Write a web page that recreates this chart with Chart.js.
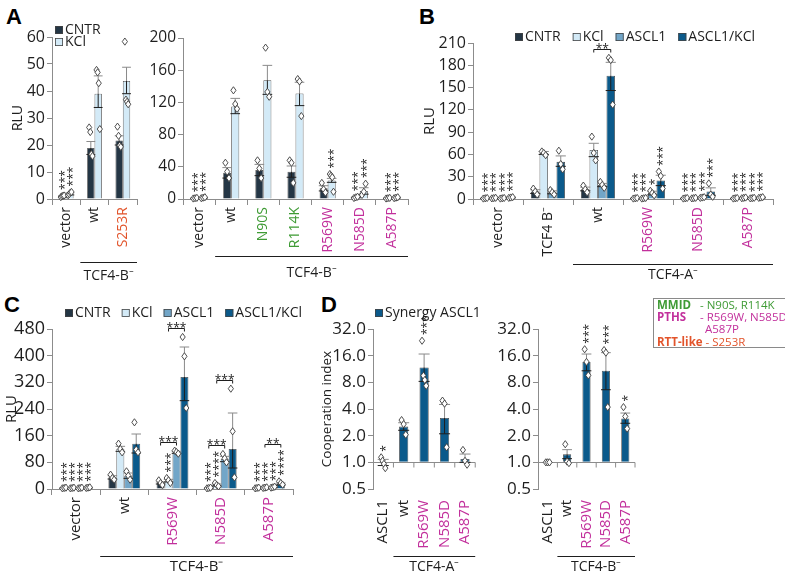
<!DOCTYPE html>
<html>
<head>
<meta charset="utf-8">
<title>TCF4 reporter assays</title>
<script src="https://cdn.jsdelivr.net/npm/chart.js@4.4.1/dist/chart.umd.min.js"></script>
<style>
  body { margin: 0; background: #fff; }
  #page { position: relative; width: 785px; height: 571px; overflow: hidden; font-family: 'Open Sans', sans-serif; }
  #page canvas { position: absolute; }
  .tag { position: absolute; font: bold 22px 'Liberation Sans', Arial, sans-serif; line-height: 1; color: #000; }
  #key { position: absolute; left: 653px; top: 298px; width: 140px; height: 50px; border: 1px solid #8a8a8a; box-sizing: border-box; font-size: 11.5px; }
  #key span { position: absolute; white-space: nowrap; line-height: 12px; }
</style>
</head>
<body>
<div id="page">
  <div class="tag" style="left:6px;top:6px">A</div>
  <div class="tag" style="left:419px;top:6px">B</div>
  <div class="tag" style="left:4px;top:294px">C</div>
  <div class="tag" style="left:321px;top:294px">D</div>
  <canvas id="aLeft"></canvas>
  <canvas id="aRight"></canvas>
  <canvas id="panelB"></canvas>
  <canvas id="panelC"></canvas>
  <canvas id="dLeft"></canvas>
  <canvas id="dRight"></canvas>
  <div id="key">
    <span style="left:3px;top:0px;color:#3f9b35;font-weight:bold">MMID</span>
    <span style="left:46px;top:0px;color:#3f9b35">- N90S, R114K</span>
    <span style="left:3px;top:12px;color:#c2309c;font-weight:bold">PTHS</span>
    <span style="left:46px;top:12px;color:#c2309c">- R569W, N585D,</span>
    <span style="left:51px;top:24px;color:#c2309c">A587P</span>
    <span style="left:3px;top:37px;color:#e2542b"><b>RTT-like</b> - S253R</span>
  </div>
</div>
<script>
// ---- A, left: TCF4-B- wt / S253R, CNTR vs KCl
const aLeftLabels = ['vector', 'wt', 'S253R'];
const aLeftCntr = [1.0, 18.9, 21.7];
const aLeftCntrErr = [[0.8, 1.2], [16.5, 21.3], [20.0, 23.4]];
const aLeftCntrPts = [[0.7, 1.0, 1.2, 1.3], [26.5, 24.8, 16.6, 15.9], [26.8, 23.4, 19.8, 19.3]];
const aLeftCntrStars = ['***', '', ''];
const aLeftKcl = [1.9, 39.0, 43.7];
const aLeftKclErr = [[1.5, 2.3], [33.9, 45.6], [39.0, 48.8]];
const aLeftKclPts = [[1.4, 1.8, 2.4, 2.6], [47.8, 46.9, 42.9, 25.9], [58.3, 36.8, 36.0, 35.1]];
const aLeftKclStars = ['***', '', ''];

// ---- A, right: TCF4-B- variants
const aRightLabels = ['vector', 'wt', 'N90S', 'R114K', 'R569W', 'N585D', 'A587P'];
const aRightCntr = [1.0, 32.6, 36.0, 34.0, 13.2, 2.0, 1.0];
const aRightCntrErr = [[0.7, 1.3], [26, 39], [29, 43], [27, 41], [10, 16.5], [1.5, 2.5], [0.7, 1.3]];
const aRightCntrPts = [[0.6, 1.0, 1.4], [45, 34, 26], [48, 38, 26], [48, 45, 20], [20, 12, 8], [1.2, 2.0, 2.8], [0.6, 1.0, 1.4]];
const aRightCntrStars = ['***', '', '', '', '', '***', '***'];
const aRightKcl = [1.6, 115, 147.5, 131, 23, 10, 1.6];
const aRightKclErr = [[1.2, 2.0], [106, 125], [130, 166], [116, 145], [20.7, 25.6], [6, 14], [1.2, 2.0]];
const aRightKclPts = [[1.0, 1.6, 2.2], [135, 118, 112], [188, 133, 127], [149, 146, 103], [31, 29, 27, 9], [5, 9, 19], [1.0, 1.6, 2.2]];
const aRightKclStars = ['***', '', '', '', '***', '***', '***'];

// ---- B: TCF4-A- variants with ASCL1
const bLabels = ['vector', 'TCF4 B⁻', 'wt', 'R569W', 'N585D', 'A587P'];
const bCntr = [1.0, 10, 13, 1.0, 1.0, 1.0];
const bCntrErr = [[0.7, 1.3], [7.5, 12.5], [11, 16], [0.7, 1.3], [0.7, 1.3], [0.7, 1.3]];
const bCntrPts = [[0.6, 1.0, 1.4], [14, 10, 6], [18, 13, 9], [0.6, 1.0, 1.4], [0.6, 1.0, 1.4], [0.6, 1.0, 1.4]];
const bCntrStars = ['***', '', '', '***', '***', '***'];
const bKcl = [1.2, 62, 66, 1.0, 1.2, 1.5];
const bKclErr = [[0.9, 1.5], [60, 64], [57, 75], [0.7, 1.3], [0.9, 1.5], [1.1, 1.9]];
const bKclPts = [[0.8, 1.2, 1.6], [64, 62, 59], [84, 62, 52], [0.6, 1.0, 1.4], [0.8, 1.2, 1.6], [1.0, 1.5, 2.0]];
const bKclStars = ['***', '', '', '***', '***', '***'];
const bAscl1 = [1.0, 9, 19, 8, 2.0, 1.2];
const bAscl1Err = [[0.7, 1.3], [7, 11], [16.6, 21], [5.5, 10.5], [1.5, 2.5], [0.9, 1.5]];
const bAscl1Pts = [[0.6, 1.0, 1.4], [12, 9, 6], [23, 19, 15], [11, 8, 5], [1.5, 2.0, 2.5], [0.8, 1.2, 1.6]];
const bAscl1Stars = ['***', '', '', '*', '***', '***'];
const bAsclKcl = [2.0, 50, 166, 25, 10, 2.0];
const bAsclKclErr = [[1.5, 2.5], [44, 58], [146, 184], [18, 32], [5, 15], [1.5, 2.5]];
const bAsclKclPts = [[1.5, 2.0, 2.5], [65, 47, 40], [190, 187, 127], [37, 31, 14], [21, 6, 3], [1.5, 2.0, 2.5]];
const bAsclKclStars = ['***', '', '', '***', '***', '***'];
const bBrackets = [{ cat: 2, from: 1, to: 3, text: '**' }];

// ---- C: TCF4-B- variants with ASCL1
const cLabels = ['vector', 'wt', 'R569W', 'N585D', 'A587P'];
const cCntr = [3, 35, 18, 3, 3];
const cCntrErr = [[2, 4], [30, 40], [15, 21], [2, 4], [2, 4]];
const cCntrPts = [[2, 3, 4], [43, 33, 28], [26, 18, 12], [2, 3, 4], [2, 3, 4]];
const cCntrStars = ['***', '', '', '***', '***'];
const cKcl = [3, 121, 25, 12, 4];
const cKclErr = [[2, 4], [113, 128], [21, 29], [9, 15], [3, 5]];
const cKclPts = [[2, 3, 4], [136, 120, 110], [33, 26, 18], [18, 12, 8], [3, 4, 5]];
const cKclStars = ['***', '', '***', '****', '***'];
const cAscl1 = [3, 40, 110, 90, 5];
const cAscl1Err = [[2, 4], [32, 48], [107, 113], [82, 98], [4, 6]];
const cAscl1Pts = [[2, 3, 4], [53, 40, 28], [115, 111, 106], [105, 92, 80], [4, 5, 7]];
const cAscl1Stars = ['***', '', '', '', '***'];
const cAsclKcl = [4, 136, 336, 120, 15];
const cAsclKclErr = [[3, 5], [108, 165], [265, 426], [63, 228], [12, 18]];
const cAsclKclPts = [[3, 4, 5], [200, 118, 110], [456, 398, 243], [301, 173, 35], [23, 18, 13]];
const cAsclKclStars = ['***', '', '', '', '****'];
const cBrackets = [
  { cat: 2, from: 0, to: 2, text: '***' }, { cat: 2, from: 1, to: 3, text: '***' },
  { cat: 3, from: 0, to: 2, text: '***' }, { cat: 3, from: 1, to: 3, text: '***' },
  { cat: 4, from: 1, to: 3, text: '**' }
];

// ---- D: cooperation index (log2 axis)
const dLabels = ['ASCL1', 'wt', 'R569W', 'N585D', 'A587P'];
const dTicks = [0.5, 1, 2, 4, 8, 16, 32];
const dTcf4A = [1.0, 2.53, 11.8, 3.17, 1.09];
const dTcf4AErr = [[0.92, 1.08], [2.3, 2.8], [8.2, 16.7], [2.1, 4.5], [1.0, 1.24]];
const dTcf4APts = [[1.14, 1.04, 0.96, 0.86], [3.0, 2.7, 2.05], [23.6, 9.5, 8.5, 7.3], [4.97, 4.6, 1.48], [1.38, 1.04, 0.94]];
const dTcf4AStars = ['*', '', '***', '', ''];
const dTcf4B = [1.0, 1.23, 13.6, 10.8, 3.12];
const dTcf4BErr = [null, [1.1, 1.39], [10.8, 16.7], [6.6, 17.3], [2.76, 3.6]];
const dTcf4BPts = [[1, 1, 1], [1.6, 1.02, 0.98], [18.9, 13.6, 9.6], [18.5, 17.3, 4.2], [4.2, 3.3, 2.4]];
const dTcf4BStars = ['', '', '***', '***', '*'];

const labelColor = { S253R: '#e2542b', N90S: '#3f9b35', R114K: '#3f9b35', R569W: '#c2309c', N585D: '#c2309c', A587P: '#c2309c' };
const COL = { cntr: '#243645', kcl: '#d3eaf7', ascl1: '#72a6c8', asclKcl: '#0b5a8b' };
const AXIS = '#8c8c8c';
const INK = '#1e1e1e';
const FONT = "'Open Sans', sans-serif";

function seg(ctx, x1, y1, x2, y2) {
  ctx.beginPath(); ctx.moveTo(x1, y1); ctx.lineTo(x2, y2); ctx.stroke();
}

function diamond(ctx, x, y) {
  ctx.beginPath();
  ctx.moveTo(x, y - 3.6); ctx.lineTo(x + 2.6, y); ctx.lineTo(x, y + 3.6); ctx.lineTo(x - 2.6, y);
  ctx.closePath();
  ctx.fillStyle = '#fff'; ctx.fill();
  ctx.strokeStyle = '#3c3c3c'; ctx.lineWidth = 0.9; ctx.stroke();
}

// error bars, replicate points, stars, brackets, group lines and legend
const marksPlugin = {
  id: 'marks',
  afterDraw(chart, args, opts) {
    const { ctx, chartArea } = chart;
    const ys = chart.scales.y, xs = chart.scales.x;
    const fs = opts.starSize || 12;
    const tops = [];
    ctx.save();

    if (opts.baseLine !== undefined) {
      const py = Math.round(ys.getPixelForValue(opts.baseLine)) + 0.5;
      ctx.strokeStyle = AXIS; ctx.lineWidth = 1;
      seg(ctx, chartArea.left, py, chartArea.right, py);
      const n = chart.data.labels.length;
      for (let i = 1; i <= n; i++) {
        const px = i < n ? (xs.getPixelForTick(i - 1) + xs.getPixelForTick(i)) / 2 : chartArea.right;
        seg(ctx, px, py, px, py + 5);
      }
    }

    chart.data.datasets.forEach((ds, di) => {
      tops[di] = [];
      chart.getDatasetMeta(di).data.forEach((bar, i) => {
        const cx = bar.x, w = bar.width;
        let top = Math.min(bar.y, bar.base);
        const e = ds.err ? ds.err[i] : null;
        if (e) {
          const lo = ys.getPixelForValue(e[0]), hi = ys.getPixelForValue(e[1]);
          const half = w * 0.6;
          ctx.lineWidth = 1;
          ctx.strokeStyle = '#8a8a8a';
          seg(ctx, cx, bar.y, cx, hi); seg(ctx, cx - half, hi, cx + half, hi);
          ctx.strokeStyle = INK;
          seg(ctx, cx, bar.y, cx, lo); seg(ctx, cx - half, lo, cx + half, lo);
          top = Math.min(top, hi);
        }
        const pts = ds.pts ? ds.pts[i] : [];
        pts.forEach((v, k) => {
          const dx = pts.length > 1 ? (k / (pts.length - 1) - 0.5) * w * 0.45 : 0;
          const py = ys.getPixelForValue(v);
          diamond(ctx, cx + dx, py);
          top = Math.min(top, py - 3.6);
        });
        const s = ds.stars ? ds.stars[i] : '';
        if (s) {
          ctx.font = fs + 'px ' + FONT;
          ctx.fillStyle = INK;
          ctx.save();
          ctx.translate(cx, top - 2);
          ctx.rotate(-Math.PI / 2);
          ctx.textAlign = 'left'; ctx.textBaseline = 'alphabetic';
          ctx.fillText(s, 0, fs * 0.56);
          ctx.restore();
          top -= ctx.measureText(s).width + 2;
        }
        tops[di][i] = top;
      });
    });

    (opts.brackets || []).forEach(b => {
      const m1 = chart.getDatasetMeta(b.from).data[b.cat];
      const m2 = chart.getDatasetMeta(b.to).data[b.cat];
      let t = Infinity;
      for (let d = b.from; d <= b.to; d++) t = Math.min(t, tops[d][b.cat]);
      const yb = Math.round(t - 5) + 0.5;
      ctx.strokeStyle = INK; ctx.lineWidth = 1;
      ctx.beginPath();
      ctx.moveTo(m1.x, yb + 3); ctx.lineTo(m1.x, yb); ctx.lineTo(m2.x, yb); ctx.lineTo(m2.x, yb + 3);
      ctx.stroke();
      ctx.font = fs + 'px ' + FONT; ctx.fillStyle = INK;
      ctx.textAlign = 'center'; ctx.textBaseline = 'alphabetic';
      ctx.fillText(b.text, (m1.x + m2.x) / 2, yb + fs * 0.3);
    });

    (opts.groups || []).forEach(g => {
      const half = (xs.getPixelForTick(1) - xs.getPixelForTick(0)) / 2;
      const x1 = xs.getPixelForTick(g.from) - half, x2 = chartArea.right;
      const yl = Math.round(chartArea.bottom + g.lineDy) + 0.5;
      ctx.strokeStyle = INK; ctx.lineWidth = 1;
      seg(ctx, x1, yl, x2, yl);
      ctx.font = (g.size || 14) + 'px ' + FONT; ctx.fillStyle = INK;
      ctx.textAlign = 'center'; ctx.textBaseline = 'middle';
      ctx.fillText(g.text, (x1 + x2) / 2, chartArea.bottom + g.textDy);
    });

    if (opts.legend) {
      const L = opts.legend;
      ctx.font = L.size + 'px ' + FONT;
      ctx.textAlign = 'left'; ctx.textBaseline = 'middle';
      let x = L.x, y = L.y;
      chart.data.datasets.forEach(ds => {
        ctx.fillStyle = ds.backgroundColor; ctx.fillRect(x, y - 4, 8, 8);
        ctx.strokeStyle = '#444'; ctx.lineWidth = 0.8; ctx.strokeRect(x + 0.4, y - 3.6, 7.2, 7.2);
        ctx.fillStyle = INK; ctx.fillText(ds.label, x + 10, y + 0.5);
        if (L.dir === 'col') y += L.step;
        else x += 10 + ctx.measureText(ds.label).width + L.gap;
      });
    }
    ctx.restore();
  }
};

function bars(label, color, values, err, pts, stars, pct) {
  return {
    label, data: values, backgroundColor: color, borderColor: '#4a4a4a', borderWidth: 0.8,
    categoryPercentage: pct, barPercentage: 1, err, pts, stars
  };
}

function panel(id, box, plot, p) {
  const cv = document.getElementById(id);
  cv.width = box.w; cv.height = box.h;
  Object.assign(cv.style, { left: box.x + 'px', top: box.y + 'px', width: box.w + 'px', height: box.h + 'px' });
  const tSize = p.titleSize || 15;
  const padL = p.title ? Math.max(0, Math.round(p.titleX - box.x - tSize * 0.6)) : 0;
  const yScale = {
    type: p.log ? 'logarithmic' : 'linear',
    min: p.yMin, max: p.yMax,
    border: { color: AXIS, width: 1 },
    grid: { drawOnChartArea: false, tickLength: 5, color: AXIS },
    ticks: { color: INK, padding: 2, autoSkip: false, font: { family: FONT, size: p.yFont } },
    title: { display: !!p.title, text: p.title, color: INK, font: { family: FONT, size: tSize }, padding: 0 },
    afterFit: s => { s.width = plot.left - box.x - padL; }
  };
  if (p.log) {
    yScale.afterBuildTicks = s => { s.ticks = p.yTicks.map(v => ({ value: v })); };
    yScale.ticks.callback = v => Number(v).toFixed(1);
  } else {
    yScale.ticks.stepSize = p.yStep;
  }
  return new Chart(cv, {
    type: 'bar',
    data: { labels: p.labels, datasets: p.datasets },
    options: {
      responsive: false,
      animation: false,
      layout: { padding: { left: padL, top: plot.top - box.y, right: box.x + box.w - plot.right, bottom: 0 } },
      plugins: { legend: { display: false }, tooltip: { enabled: false }, marks: p.marks },
      scales: {
        x: {
          border: { display: !p.log, color: AXIS },
          grid: { display: !p.log, drawTicks: !p.log, drawOnChartArea: false, offset: true, tickLength: 6, color: AXIS },
          ticks: {
            autoSkip: false, maxRotation: 90, minRotation: 90, padding: p.log ? 11 : 2,
            font: { family: FONT, size: p.xFont },
            color: c => labelColor[p.labels[c.index]] || INK
          },
          afterFit: s => { s.height = box.y + box.h - plot.bottom; }
        },
        y: yScale
      }
    },
    plugins: [marksPlugin]
  });
}

panel('aLeft', { x: 0, y: 0, w: 145, h: 290 }, { left: 52, top: 37, right: 137, bottom: 199 }, {
  labels: aLeftLabels, yMin: 0, yMax: 60, yStep: 10, yFont: 16, xFont: 14,
  title: 'RLU', titleX: 18, titleSize: 14,
  datasets: [
    bars('CNTR', COL.cntr, aLeftCntr, aLeftCntrErr, aLeftCntrPts, aLeftCntrStars, 0.52),
    bars('KCl', COL.kcl, aLeftKcl, aLeftKclErr, aLeftKclPts, aLeftKclStars, 0.52)
  ],
  marks: { legend: { x: 55, y: 30, dir: 'col', step: 12, size: 14 }, groups: [{ from: 1, text: 'TCF4-B⁻', lineDy: 63, textDy: 77 }] }
});

panel('aRight', { x: 140, y: 0, w: 278, h: 290 }, { left: 183, top: 38, right: 408, bottom: 199 }, {
  labels: aRightLabels, yMin: 0, yMax: 200, yStep: 40, yFont: 15.5, xFont: 14,
  datasets: [
    bars('CNTR', COL.cntr, aRightCntr, aRightCntrErr, aRightCntrPts, aRightCntrStars, 0.5),
    bars('KCl', COL.kcl, aRightKcl, aRightKclErr, aRightKclPts, aRightKclStars, 0.5)
  ],
  marks: { groups: [{ from: 1, text: 'TCF4-B⁻', lineDy: 57, textDy: 74 }] }
});

panel('panelB', { x: 410, y: 0, w: 375, h: 290 }, { left: 473, top: 43, right: 773, bottom: 199 }, {
  labels: bLabels, yMin: 0, yMax: 210, yStep: 30, yFont: 16, xFont: 14,
  title: 'RLU', titleX: 430,
  datasets: [
    bars('CNTR', COL.cntr, bCntr, bCntrErr, bCntrPts, bCntrStars, 0.68),
    bars('KCl', COL.kcl, bKcl, bKclErr, bKclPts, bKclStars, 0.68),
    bars('ASCL1', COL.ascl1, bAscl1, bAscl1Err, bAscl1Pts, bAscl1Stars, 0.68),
    bars('ASCL1/KCl', COL.asclKcl, bAsclKcl, bAsclKclErr, bAsclKclPts, bAsclKclStars, 0.68)
  ],
  marks: {
    brackets: bBrackets,
    legend: { x: 105, y: 37, dir: 'row', gap: 12, size: 14 },
    groups: [{ from: 2, text: 'TCF4-A⁻', lineDy: 65, textDy: 76 }]
  }
});

panel('panelC', { x: 0, y: 290, w: 305, h: 281 }, { left: 52, top: 329, right: 293, bottom: 489 }, {
  labels: cLabels, yMin: 0, yMax: 480, yStep: 80, yFont: 18, xFont: 15,
  title: 'RLU', titleX: 12,
  datasets: [
    bars('CNTR', COL.cntr, cCntr, cCntrErr, cCntrPts, cCntrStars, 0.66),
    bars('KCl', COL.kcl, cKcl, cKclErr, cKclPts, cKclStars, 0.66),
    bars('ASCL1', COL.ascl1, cAscl1, cAscl1Err, cAscl1Pts, cAscl1Stars, 0.66),
    bars('ASCL1/KCl', COL.asclKcl, cAsclKcl, cAsclKclErr, cAsclKclPts, cAsclKclStars, 0.66)
  ],
  marks: {
    brackets: cBrackets,
    legend: { x: 65, y: 23, dir: 'row', gap: 11, size: 14 },
    groups: [{ from: 1, text: 'TCF4-B⁻', lineDy: 67, textDy: 78, size: 15 }]
  }
});

panel('dLeft', { x: 312, y: 290, w: 183, h: 281 }, { left: 373, top: 329, right: 485, bottom: 489 }, {
  labels: dLabels, log: true, yMin: 0.5, yMax: 32, yTicks: dTicks, yFont: 17, xFont: 15,
  title: 'Cooperation index', titleX: 327, titleSize: 13.5,
  datasets: [Object.assign(bars('Synergy ASCL1', COL.asclKcl, dTcf4A, dTcf4AErr, dTcf4APts, dTcf4AStars, 0.45), { base: 1 })],
  marks: {
    baseLine: 1,
    legend: { x: 63, y: 23, dir: 'row', gap: 10, size: 14 },
    groups: [{ from: 1, text: 'TCF4-A⁻', lineDy: 67, textDy: 78 }]
  }
});

panel('dRight', { x: 490, y: 290, w: 165, h: 281 }, { left: 538, top: 329, right: 648, bottom: 489 }, {
  labels: dLabels, log: true, yMin: 0.5, yMax: 32, yTicks: dTicks, yFont: 17, xFont: 15,
  datasets: [Object.assign(bars('Synergy ASCL1', COL.asclKcl, dTcf4B, dTcf4BErr, dTcf4BPts, dTcf4BStars, 0.42), { base: 1 })],
  marks: {
    baseLine: 1,
    groups: [{ from: 1, text: 'TCF4-B⁻', lineDy: 67, textDy: 78 }]
  }
});
</script>
</body>
</html>
